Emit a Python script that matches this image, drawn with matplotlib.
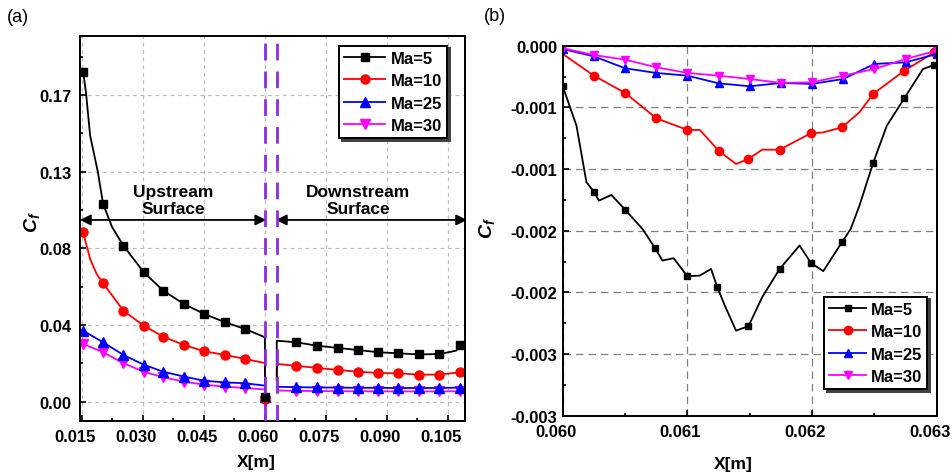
import numpy as np
import matplotlib
matplotlib.use("Agg")
import matplotlib.pyplot as plt
import matplotlib.transforms as mtransforms
from matplotlib.ticker import FixedLocator, FixedFormatter, AutoMinorLocator

plt.rcParams['font.family'] = ['Liberation Sans', 'DejaVu Sans']
plt.rcParams['font.weight'] = 'bold'
plt.rcParams['mathtext.fontset'] = 'custom'
plt.rcParams['mathtext.it'] = 'Liberation Sans:italic:bold'
plt.rcParams['mathtext.rm'] = 'Liberation Sans:bold'

# ---- panel (a): upstream / downstream surfaces ----
labels = ['Ma=5', 'Ma=10', 'Ma=25', 'Ma=30']
colors = ['black', '#FF0000', '#0000FF', '#FF00FF']
markers = ['s', 'o', '^', 'v']

x5_up = [0.0153, 0.0160, 0.0170, 0.0189, 0.0202, 0.0224, 0.0252, 0.0302, 0.0350,
         0.0401, 0.0451, 0.0502, 0.0551, 0.0600, 0.0600]
cf5_up = [0.1827, 0.1709, 0.1475, 0.1273, 0.1095, 0.0968, 0.0864, 0.0717, 0.0615,
          0.0541, 0.0486, 0.0440, 0.0403, 0.0357, 0.0026]
mk5_up = [0, 4, 6, 7, 8, 9, 10, 11, 12, 14]

x10_up = [0.0153, 0.0157, 0.0170, 0.0186, 0.0202, 0.0252, 0.0302, 0.0350, 0.0401,
          0.0451, 0.0502, 0.0551, 0.0600, 0.0600]
cf10_up = [0.0939, 0.0902, 0.0791, 0.0708, 0.0656, 0.0504, 0.0421, 0.0360, 0.0314,
           0.0279, 0.0259, 0.0237, 0.0214, 0.0015]
mk10_up = [0, 4, 5, 6, 7, 8, 9, 10, 11, 13]

x_up = [0.0153, 0.0202, 0.0252, 0.0302, 0.0350, 0.0401, 0.0451, 0.0502, 0.0551, 0.0600, 0.0600]
cf25_up = [0.0393, 0.0329, 0.0259, 0.0205, 0.0166, 0.0139, 0.0116, 0.0107, 0.0102, 0.0089, 0.0026]
cf30_up = [0.0320, 0.0274, 0.0213, 0.0166, 0.0135, 0.0111, 0.0094, 0.0083, 0.0076, 0.0068, 0.0006]
mk_up = [0, 1, 2, 3, 4, 5, 6, 7, 8, 10]

x5_dn = [0.0629, 0.0629, 0.0677, 0.0729, 0.0779, 0.0830, 0.0879, 0.0928, 0.0979, 0.1029, 0.1071, 0.1080]
cf5_dn = [0.0116, 0.0338, 0.0329, 0.0310, 0.0298, 0.0286, 0.0274, 0.0268, 0.0262, 0.0264, 0.0283, 0.0314]
mk5_dn = [2, 3, 4, 5, 6, 7, 8, 9, 11]

x10_dn = [0.0629, 0.0630, 0.0677, 0.0729, 0.0779, 0.0830, 0.0879, 0.0928, 0.0979, 0.1029, 0.1080]
cf10_dn = [0.0126, 0.0209, 0.0199, 0.0187, 0.0176, 0.0166, 0.0159, 0.0157, 0.0150, 0.0150, 0.0163]
mk10_dn = [2, 3, 4, 5, 6, 7, 8, 9, 10]

x_dn = [0.0629, 0.0677, 0.0729, 0.0779, 0.0830, 0.0879, 0.0928, 0.0979, 0.1029, 0.1080]
cf25_dn = [0.0083, 0.0080, 0.0079, 0.0078, 0.0077, 0.0077, 0.0076, 0.0076, 0.0076, 0.0078]
cf30_dn = [0.0062, 0.0060, 0.0059, 0.0058, 0.0058, 0.0057, 0.0057, 0.0057, 0.0057, 0.0058]
mk_dn = [1, 2, 3, 4, 5, 6, 7, 8, 9]

xticks_a = [0.015, 0.030, 0.045, 0.060, 0.075, 0.090, 0.105]
yticks_a = [0.0, 0.0425, 0.085, 0.1275, 0.17]
ylabels_a = ['0.00', '0.04', '0.08', '0.13', '0.17']

# ---- panel (b): gap region ----
xb5 = [0.06000, 0.06011, 0.06019, 0.06025, 0.06029, 0.06039, 0.06050, 0.06064, 0.06074,
       0.06080, 0.06089, 0.06100, 0.06110, 0.06119, 0.06124, 0.06130, 0.06139, 0.06149,
       0.06160, 0.06174, 0.06190, 0.06199, 0.06209, 0.06224, 0.06231, 0.06238, 0.06249,
       0.06260, 0.06274, 0.06289, 0.06298]
cfb5 = [-0.000329, -0.000648, -0.001107, -0.001183, -0.001256, -0.001210, -0.001329,
        -0.001486, -0.001640, -0.001742, -0.001723, -0.001869, -0.001864, -0.001810,
        -0.001958, -0.002107, -0.002310, -0.002274, -0.002039, -0.001810, -0.001620,
        -0.001760, -0.001828, -0.001593, -0.001486, -0.001297, -0.000951, -0.000648,
        -0.000426, -0.000189, -0.000156]
mkb5 = [0, 3, 6, 8, 11, 14, 17, 19, 21, 23, 26, 28, 30]

xb10 = [0.06000, 0.06025, 0.06050, 0.06075, 0.06100, 0.06110, 0.06125, 0.06139, 0.06149,
        0.06160, 0.06174, 0.06199, 0.06209, 0.06224, 0.06238, 0.06249, 0.06274, 0.06298]
cfb10 = [-0.000067, -0.000243, -0.000383, -0.000588, -0.000683, -0.000683, -0.000851,
         -0.000959, -0.000918, -0.000843, -0.000843, -0.000710, -0.000703, -0.000662,
         -0.000540, -0.000391, -0.000203, -0.000054]
mkb10 = [1, 2, 3, 4, 6, 8, 10, 11, 13, 15, 16, 17]

xb = [0.0600, 0.06025, 0.0605, 0.06075, 0.061, 0.06125, 0.0615, 0.06175, 0.062,
      0.06225, 0.0625, 0.06275, 0.063]
cfb25 = [-0.000027, -0.000086, -0.000183, -0.000221, -0.000243, -0.000305, -0.000329,
         -0.000302, -0.000310, -0.000270, -0.000148, -0.000135, -0.000067]
cfb30 = [-0.000020, -0.000076, -0.000113, -0.000175, -0.000221, -0.000243, -0.000270,
         -0.000302, -0.000297, -0.000243, -0.000189, -0.000108, -0.000040]

xticks_b = [0.060, 0.061, 0.062, 0.063]
yticks_b = [0.0, -0.0005, -0.001, -0.0015, -0.002, -0.0025, -0.003]
ylabels_b = ['0.000', '-0.001', '-0.001', '-0.002', '-0.002', '-0.003', '-0.003']

fig = plt.figure(figsize=(9.53, 4.77), dpi=100)
ax1 = fig.add_axes([0.0839, 0.1153, 0.404, 0.807])
ax2 = fig.add_axes([0.5905, 0.1264, 0.3924, 0.7757])


def style_axes(ax, grid_color, dashes):
    for s in ax.spines.values():
        s.set_linewidth(1.4)
    ax.tick_params(which='both', direction='in', top=False, right=False, width=1.2,
                   labelsize=12)
    ax.tick_params(which='major', length=4)
    ax.tick_params(which='minor', length=2.5)
    ax.xaxis.set_minor_locator(AutoMinorLocator(2))
    ax.yaxis.set_minor_locator(AutoMinorLocator(2))
    ax.grid(True, which='major', color=grid_color, linestyle=(0, dashes), linewidth=0.9)
    ax.set_axisbelow(True)


def legend_box(ax, handles, names, hl, **kw):
    leg = ax.legend(handles, names, fontsize=12, frameon=True, fancybox=False,
                    shadow={'color': '0.25', 'alpha': 1}, edgecolor='black',
                    framealpha=1, borderpad=0.3, labelspacing=0.45,
                    handlelength=hl, handletextpad=0.3, borderaxespad=0, **kw)
    leg.get_frame().set_linewidth(1.4)
    return leg


style_axes(ax1, '#bdbdbd', (3, 3))
style_axes(ax2, '#808080', (6, 4))

ms = [5.5, 6.5, 6.5, 6.5]

# panel (a)
up_sets = [(x5_up, cf5_up, mk5_up), (x10_up, cf10_up, mk10_up),
           (x_up, cf25_up, mk_up), (x_up, cf30_up, mk_up)]
dn_sets = [(x5_dn, cf5_dn, mk5_dn), (x10_dn, cf10_dn, mk10_dn),
           (x_dn, cf25_dn, mk_dn), (x_dn, cf30_dn, mk_dn)]
handles_a = {}
for i in [3, 2, 1, 0]:
    xu, yu, mu = up_sets[i]
    xd, yd, md = dn_sets[i]
    ln, = ax1.plot(xu, yu, color=colors[i], marker=markers[i], markevery=mu, ms=ms[i], lw=1.3)
    ax1.plot(xd, yd, color=colors[i], marker=markers[i], markevery=md, ms=ms[i], lw=1.3)
    handles_a[i] = ln

ax1.axvline(0.0600, color='#8B2BE2', lw=2, linestyle=(0, (6, 4)), zorder=4)
ax1.axvline(0.0629, color='#8B2BE2', lw=2, linestyle=(0, (6, 4)), zorder=4)

ax1.set_xlim(0.0145, 0.1092)
ax1.set_ylim(-0.0107, 0.2026)
ax1.xaxis.set_major_locator(FixedLocator(xticks_a))
ax1.xaxis.set_major_formatter(FixedFormatter(['%.3f' % v for v in xticks_a]))
ax1.yaxis.set_major_locator(FixedLocator(yticks_a))
ax1.yaxis.set_major_formatter(FixedFormatter(ylabels_a))
ax1.tick_params(axis='y', pad=6)
ax1.tick_params(axis='x', pad=6)

arrow = dict(arrowstyle='<|-|>', color='black', lw=1.3, mutation_scale=16,
             shrinkA=0, shrinkB=0)
ax1.annotate('', xy=(0.0145, 0.1007), xytext=(0.0603, 0.1007), arrowprops=arrow)
ax1.annotate('', xy=(0.0627, 0.1007), xytext=(0.1097, 0.1007), arrowprops=arrow,
             annotation_clip=False)
ax1.text(0.0374, 0.1118, 'Upstream\nSurface', ha='center', va='center', fontsize=12.5,
         fontweight='bold', linespacing=1.2)
ax1.text(0.0829, 0.1118, 'Downstream\nSurface', ha='center', va='center', fontsize=12.5,
         fontweight='bold', linespacing=1.2)

legend_box(ax1, [handles_a[k] for k in range(4)], labels, 2.5, loc='upper right',
           bbox_to_anchor=(0.953, 0.975))

ax1.set_xlabel('X[m]', fontsize=12.5, fontweight='bold')
ax1.xaxis.set_label_coords(0.457, -0.086)
ax1.set_ylabel(r'$C_f$', fontsize=14)
ax1.yaxis.set_label_coords(-0.099, 0.52)

# panel (b)
b_sets = [(xb5, cfb5, mkb5), (xb10, cfb10, mkb10),
          (xb, cfb25, list(range(len(xb)))), (xb, cfb30, list(range(len(xb))))]
handles_b = []
for i in [0, 1, 2, 3]:
    xx, yy, mm = b_sets[i]
    ln, = ax2.plot(xx, yy, color=colors[i], marker=markers[i], markevery=mm, ms=ms[i] - 0.5,
                   lw=1.3)
    handles_b.append(ln)

ax2.set_xlim(0.060, 0.063)
ax2.set_ylim(-0.003, 0.0)
ax2.xaxis.set_major_locator(FixedLocator(xticks_b))
ax2.xaxis.set_major_formatter(FixedFormatter(['%.3f' % v for v in xticks_b]))
ax2.yaxis.set_major_locator(FixedLocator(yticks_b))
ax2.yaxis.set_major_formatter(FixedFormatter(ylabels_b))
ax2.tick_params(axis='y', pad=4)
ax2.tick_params(axis='x', pad=6)

legend_box(ax2, handles_b, labels, 2.2, loc='lower right', bbox_to_anchor=(0.975, 0.072))

ax2.set_xlabel('X[m]', fontsize=12.5, fontweight='bold')
ax2.xaxis.set_label_coords(0.455, -0.109)
ax2.set_ylabel(r'$C_f$', fontsize=14)
ax2.yaxis.set_label_coords(-0.175, 0.51)

# x tick labels sit a little left of their ticks in the original
shift = mtransforms.ScaledTranslation(-0.07, 0, fig.dpi_scale_trans)
for ax in (ax1, ax2):
    for lab in ax.get_xticklabels():
        lab.set_transform(lab.get_transform() + shift)

fig.text(0.019, 0.963, '(a)', ha='center', va='center', fontsize=13, fontweight='normal')
fig.text(0.519, 0.966, '(b)', ha='center', va='center', fontsize=13, fontweight='normal')

fig.savefig('out.png', dpi=100)
